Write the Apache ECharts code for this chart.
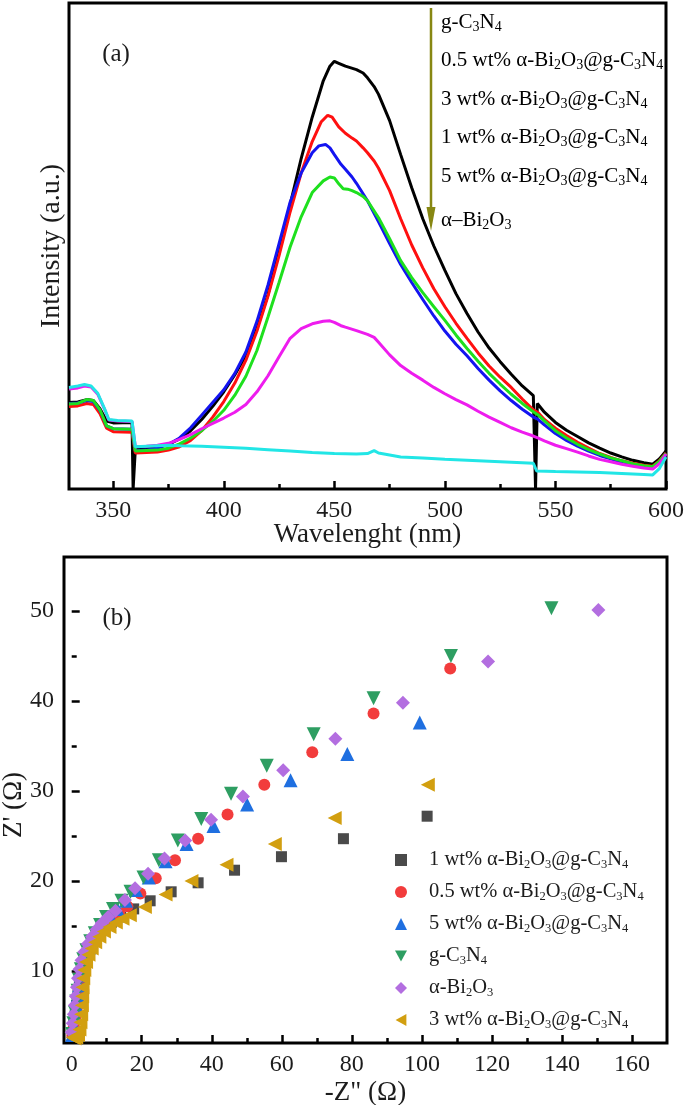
<!DOCTYPE html>
<html><head><meta charset="utf-8">
<script src="https://cdn.jsdelivr.net/npm/echarts@6/dist/echarts.min.js"></script>
<style>html,body{margin:0;padding:0;background:#fff}#c{width:685px;height:1105px}</style>
</head><body><div id="c"></div>
<script>
// ---------- Panel (a): PL spectra [wavelength nm, intensity a.u.] ----------
const plBlack = [[330,17.8],[334,17.9],[338,18.4],[341,18.2],[344,16.5],[347,14.0],[350,13.6],[358.5,13.7],[359,0],[359.5,0],[360,8.2],[365,8.3],[370,8.6],[375,9.2],[380,10.3],[385,12.0],[390,14.3],[395,17.0],[400,20.0],[405,23.5],[410,27.5],[415,33.0],[420,40.0],[425,49.0],[430,58.5],[435,68.0],[440,76.5],[445,84.0],[448,87.0],[450,88.0],[452,87.6],[455,87.0],[460,86.3],[463,85.6],[465,84.6],[468,82.8],[470,81.2],[475,75.8],[480,68.8],[485,62.0],[490,55.6],[495,50.0],[500,45.0],[505,40.2],[510,36.1],[515,32.3],[520,29.0],[525,26.2],[530,23.6],[535,21.2],[540,19.2],[540.8,18.9],[541,0],[541.5,0],[541.8,17.6],[545,15.8],[550,13.7],[555,12.1],[560,10.8],[565,9.5],[570,8.4],[575,7.4],[580,6.6],[585,5.9],[590,5.4],[594,5.1],[597,6.2],[600,7.8]];
const plRed = [[330,17.0],[334,17.1],[338,17.6],[341,17.4],[344,15.5],[347,12.5],[350,11.8],[358.5,11.7],[360,7.4],[365,7.5],[370,7.6],[375,8.0],[380,8.7],[385,10.0],[390,12.0],[395,14.8],[400,18.0],[405,21.8],[410,26.5],[415,32.5],[420,39.7],[425,48.0],[430,57.0],[435,65.0],[440,71.5],[444,75.5],[447,76.9],[449,76.5],[452,74.5],[455,73.2],[458,72.2],[460,71.6],[463,70.2],[465,69.2],[468,67.5],[470,66.0],[475,61.4],[480,55.6],[485,50.2],[490,45.5],[495,41.2],[500,37.5],[505,34.1],[510,31.0],[515,28.0],[520,25.3],[525,23.0],[530,20.9],[535,18.5],[540,16.3],[542,15.8],[545,14.3],[550,12.5],[555,11.0],[560,9.6],[565,8.4],[570,7.3],[575,6.5],[580,5.8],[585,5.3],[590,4.9],[594,4.7],[597,5.8],[600,7.4]];
const plBlue = [[330,17.6],[334,17.7],[338,18.2],[341,18.0],[344,16.2],[347,13.0],[350,12.4],[358.5,12.3],[360,7.9],[365,8.0],[370,8.4],[375,9.2],[380,10.5],[385,12.6],[390,15.2],[395,17.8],[400,20.4],[405,23.8],[410,28.2],[415,34.5],[420,42.0],[425,50.5],[430,59.0],[435,65.0],[440,69.2],[443,70.6],[446,70.9],[448,70.2],[450,68.8],[453,66.8],[455,65.8],[458,64.2],[460,62.9],[465,59.3],[470,55.0],[475,50.5],[480,46.2],[485,42.5],[490,39.0],[495,35.6],[500,32.5],[505,29.8],[510,27.4],[515,24.8],[520,22.4],[525,20.2],[530,18.2],[535,16.4],[540,14.8],[542,14.4],[545,13.2],[550,11.4],[555,10.0],[560,8.8],[565,7.8],[570,6.9],[575,6.2],[580,5.5],[585,5.0],[590,4.6],[594,4.4],[597,5.5],[600,7.0]];
const plGreen = [[330,17.5],[334,17.6],[338,18.4],[341,18.2],[344,16.3],[347,13.0],[350,12.4],[358.5,12.3],[360,7.8],[365,7.9],[370,8.0],[375,8.4],[380,9.3],[385,10.5],[390,12.0],[395,13.9],[400,16.2],[405,19.3],[410,23.2],[415,28.5],[420,35.4],[425,42.5],[430,49.8],[435,56.0],[440,61.0],[445,63.4],[448,64.2],[450,64.0],[452,62.8],[454,61.8],[456,61.7],[458,61.4],[460,61.0],[463,60.2],[465,59.3],[470,55.8],[475,51.5],[480,47.0],[485,43.5],[490,40.4],[495,37.5],[500,34.7],[505,31.7],[510,28.9],[515,26.3],[520,23.8],[525,21.6],[530,19.5],[535,17.6],[540,15.9],[542,15.3],[545,14.0],[550,12.0],[555,10.5],[560,9.2],[565,8.1],[570,7.2],[575,6.4],[580,5.8],[585,5.2],[590,4.8],[594,4.6],[597,5.7],[600,7.3]];
const plMagenta = [[330,20.6],[334,20.8],[337,21.2],[340,21.0],[343,19.5],[346,16.5],[348,14.2],[352,14.0],[358.5,13.9],[360,8.7],[365,8.8],[370,9.0],[375,9.4],[380,10.2],[385,11.2],[390,12.4],[395,13.5],[400,14.6],[405,15.8],[410,17.4],[415,20.0],[420,23.3],[425,27.2],[430,31.0],[435,33.0],[440,34.0],[445,34.5],[448,34.6],[450,34.3],[453,33.6],[455,33.3],[460,32.6],[465,31.8],[468,31.2],[470,30.2],[475,27.6],[480,25.4],[485,23.8],[490,22.4],[495,20.9],[500,19.6],[505,18.4],[510,17.3],[515,16.0],[520,14.8],[525,13.7],[530,12.6],[535,11.7],[540,10.9],[542,10.5],[545,9.9],[550,9.0],[555,8.3],[560,7.6],[565,6.8],[570,6.1],[575,5.6],[580,5.1],[585,4.7],[590,4.3],[594,4.1],[597,5.2],[600,7.2]];
const plCyan = [[330,20.9],[334,21.2],[337,21.5],[340,21.2],[343,19.7],[346,16.6],[348,14.3],[352,14.1],[358.5,14.0],[360,8.7],[365,8.8],[370,8.9],[375,9.0],[380,8.9],[390,8.8],[400,8.6],[410,8.4],[420,8.1],[430,7.8],[440,7.5],[450,7.3],[460,7.2],[465,7.3],[468,7.9],[470,7.4],[475,7.0],[480,6.6],[490,6.4],[500,6.1],[510,5.9],[520,5.7],[530,5.5],[540,5.3],[541.5,3.7],[550,3.6],[560,3.5],[570,3.4],[580,3.2],[590,3.0],[594,2.9],[597,4.2],[600,6.6]];
// label list beside the arrow, top to bottom (as printed in the figure)
const plNames = ['g-C3N4','0.5 wt% α-Bi2O3@g-C3N4','3 wt% α-Bi2O3@g-C3N4','1 wt% α-Bi2O3@g-C3N4','5 wt% α-Bi2O3@g-C3N4','α–Bi2O3'];
const plColors = ['#000000','#ff1010','#1414f0','#1ee01e','#ee1cee','#22e6e6'];
const wlMajorTicks = [350,400,450,500,550,600];
const wlMinorTicks = [375,425,475,525,575];

// ---------- Panel (b): Nyquist [-Z'' , Z'] ----------
const eis1wt = [[0.2,2.9],[0.6,4.0],[1.0,5.1],[1.4,6.2],[1.8,7.3],[2.2,8.4],[2.7,9.5],[3.3,10.6],[4.1,11.6],[5.1,12.5],[6.3,13.3],[7.7,14.1],[9.3,14.8],[11.3,15.4],[14.0,16.0],[17.7,16.9],[22.4,17.8],[28.4,18.8],[36.1,19.8],[46.5,21.2],[59.9,22.7],[77.6,24.7],[101.5,27.2]];
const eis05wt = [[0.2,2.8],[0.6,3.8],[1.0,4.8],[1.4,5.8],[1.8,6.8],[2.2,7.8],[2.6,8.8],[3.1,9.8],[3.7,10.8],[4.5,11.7],[5.5,12.6],[6.7,13.4],[8.1,14.2],[9.7,14.9],[11.5,15.6],[13.6,16.4],[15.9,17.2],[19.6,18.6],[24.0,20.3],[29.5,22.3],[36.1,24.7],[44.5,27.4],[55.0,30.7],[68.7,34.3],[86.2,38.6],[108.1,43.6]];
const eis5wt = [[0.1,2.9],[0.5,4.0],[0.9,5.1],[1.3,6.2],[1.7,7.3],[2.1,8.4],[2.6,9.5],[3.2,10.6],[4.0,11.6],[5.0,12.6],[6.2,13.5],[7.6,14.4],[9.2,15.3],[11.0,16.1],[13.1,16.9],[15.5,17.8],[18.4,19.0],[22.0,20.4],[26.8,22.2],[32.8,24.1],[40.5,26.1],[50.1,28.5],[62.5,31.2],[78.7,34.1],[99.4,37.6]];
const eisGCN = [[0.1,3.0],[0.5,4.2],[0.9,5.4],[1.3,6.6],[1.7,7.8],[2.1,9.0],[2.6,10.2],[3.3,11.3],[4.2,12.3],[5.3,13.3],[6.6,14.2],[8.1,15.1],[9.8,16.0],[11.8,16.9],[14.2,17.8],[16.8,18.8],[20.5,20.4],[24.9,22.3],[30.3,24.5],[37.0,26.9],[45.5,29.7],[55.7,32.8],[69.1,36.3],[86.2,40.3],[108.3,45.0],[137.0,50.3]];
const eisBi2O3 = [[0.0,3.2],[0.3,4.2],[0.6,5.2],[0.9,6.2],[1.2,7.2],[1.5,8.2],[1.8,9.2],[2.2,10.2],[2.8,11.2],[3.6,12.1],[4.6,13.0],[5.8,13.8],[7.1,14.6],[8.6,15.3],[10.4,16.0],[12.5,16.7],[15.2,17.9],[18.1,19.2],[21.8,20.8],[26.5,22.5],[32.4,24.5],[39.8,26.8],[48.9,29.4],[60.4,32.3],[75.3,35.8],[94.6,39.8],[118.9,44.4],[150.4,50.1]];
const eis3wt = [[0.3,2.6],[0.8,2.5],[1.3,2.6],[1.8,2.9],[2.2,3.5],[2.5,4.3],[2.7,5.2],[2.9,6.2],[3.0,7.2],[3.1,8.2],[3.3,9.2],[3.6,10.1],[4.1,11.0],[4.8,11.8],[5.7,12.5],[6.7,13.2],[7.9,13.8],[9.2,14.4],[10.8,14.9],[12.6,15.4],[14.5,15.8],[16.6,16.2],[20.9,17.1],[26.8,18.5],[34.2,20.0],[44.2,21.8],[58.0,24.1],[75.1,27.0],[101.7,30.7]];
const eisNames = ['1 wt% α-Bi2O3@g-C3N4','0.5 wt% α-Bi2O3@g-C3N4','5 wt% α-Bi2O3@g-C3N4','g-C3N4','α-Bi2O3','3 wt% α-Bi2O3@g-C3N4'];
const eisColors = ['#4a4a4a','#f23c3c','#1f6fe0','#2e9e62','#b36ee0','#d29f10'];
const zrMajorTicks = [0,20,40,60,80,100,120,140,160];
const zrMinorTicks = [10,30,50,70,90,110,130,150];
const ziMajorTicks = [10,20,30,40,50];
const ziMinorTicks = [5,15,25,35,45];

const F = "'Liberation Serif','Times New Roman',serif";
const TXT = '#1c1c1c';

// rich-text helper: digits 2/3/4 that follow a letter are subscripts
function richLabel(s, n, sub) {
  let out = '', buf = '';
  for (let i = 0; i < s.length; i++) {
    const ch = s[i];
    if (/[234]/.test(ch) && i > 0 && /[A-Za-z]/.test(s[i-1])) {
      if (buf) { out += '{' + n + '|' + buf + '}'; buf = ''; }
      out += '{' + sub + '|' + ch + '}';
    } else buf += ch;
  }
  if (buf) out += '{' + n + '|' + buf + '}';
  return out;
}
const RICH = {
  n: {fontSize: 21, fontFamily: F, color: TXT, lineHeight: 23, verticalAlign: 'top'},
  s: {fontSize: 14, fontFamily: F, color: TXT, lineHeight: 10, verticalAlign: 'bottom'},
  m: {fontSize: 20.5, fontFamily: F, color: TXT, lineHeight: 22, verticalAlign: 'top'},
  t: {fontSize: 12.5, fontFamily: F, color: TXT, lineHeight: 9, verticalAlign: 'bottom'},
  gap: {width: 17, lineHeight: 22, fontSize: 20, fontFamily: F}
};

const plData = [plBlack, plRed, plBlue, plGreen, plMagenta, plCyan];
const plLabelY = [23, 61, 100, 138, 177, 221];

const eisData = [eis1wt, eis05wt, eis5wt, eisGCN, eisBi2O3, eis3wt];
const eisSymbols = ['rect','circle','triangle','triangle','diamond','triangle'];
const eisRotate = [0,0,0,180,0,90];
const eisSizes = [11,12,14,14,14,14];
const eisLegendIcons = ['rect','circle','triangle','path://M0,0 L10,0 L5,9 Z','diamond','path://M9,0 L9,10 L0,5 Z'];

const chart = echarts.init(document.getElementById('c'), null, {renderer: 'canvas'});

const tickLine = {color: '#000', width: 2.5};
const labelStyle = {fontFamily: F, fontSize: 24, color: TXT, margin: 10};

const series = [];
plData.forEach((d, i) => {
  series.push({
    type: 'line', name: 'PL ' + plNames[i], xAxisIndex: 0, yAxisIndex: 0,
    data: d, showSymbol: false, symbol: 'none', smooth: false,
    lineStyle: {color: plColors[i], width: 3}, itemStyle: {color: plColors[i]},
    silent: true, z: 2
  });
});
eisData.forEach((d, i) => {
  series.push({
    type: 'scatter', name: eisNames[i], xAxisIndex: 2, yAxisIndex: 1,
    data: d, symbol: eisSymbols[i], symbolRotate: eisRotate[i], symbolSize: eisSizes[i],
    itemStyle: {color: eisColors[i], opacity: 1}, silent: true, z: 2
  });
});

const graphic = [
  {type: 'text', x: 116, y: 54, style: {text: '(a)', font: '25px ' + F, fill: TXT, align: 'center', verticalAlign: 'middle'}},
  {type: 'text', x: 117, y: 618, style: {text: '(b)', font: '25px ' + F, fill: TXT, align: 'center', verticalAlign: 'middle'}},
  {type: 'line', shape: {x1: 431, y1: 8, x2: 431, y2: 212}, style: {stroke: '#878712', lineWidth: 2.5}},
  {type: 'polygon', shape: {points: [[426.5, 207], [435.5, 207], [431, 231]]}, style: {fill: '#878712'}}
];
plNames.forEach((nm, i) => {
  graphic.push({type: 'text', x: 441, y: plLabelY[i], style: {text: richLabel(nm, 'n', 's'), rich: RICH, align: 'left', verticalAlign: 'middle'}});
});

const option = {
  animation: false,
  backgroundColor: '#ffffff',
  grid: [
    {left: 69, right: 19, top: 3, height: 486, show: true, borderColor: '#000', borderWidth: 3, backgroundColor: 'transparent', containLabel: false, outerBoundsMode: 'none'},
    {left: 64, right: 18, top: 557, height: 486, show: true, borderColor: '#000', borderWidth: 3, backgroundColor: 'transparent', containLabel: false, outerBoundsMode: 'none'}
  ],
  xAxis: [
    {gridIndex: 0, type: 'value', min: 330, max: 600,
     name: 'Wavelenght (nm)', nameLocation: 'middle', nameGap: 32, nameMoveOverlap: false,
     nameTextStyle: {fontFamily: F, fontSize: 27, color: TXT},
     axisLine: {show: false}, splitLine: {show: false},
     axisTick: {show: true, inside: true, length: 8, lineStyle: tickLine, customValues: wlMajorTicks},
     axisLabel: Object.assign({customValues: wlMajorTicks}, labelStyle)},
    {gridIndex: 0, type: 'value', min: 330, max: 600, position: 'bottom',
     axisLine: {show: false}, splitLine: {show: false}, axisLabel: {show: false},
     axisTick: {show: true, inside: true, length: 5, lineStyle: tickLine, customValues: wlMinorTicks}},
    {gridIndex: 1, type: 'value', min: -2.2, max: 170,
     name: '-Z" (Ω)', nameLocation: 'middle', nameGap: 36, nameMoveOverlap: false,
     nameTextStyle: {fontFamily: F, fontSize: 27, color: TXT},
     axisLine: {show: false}, splitLine: {show: false},
     axisTick: {show: true, inside: true, length: 8, lineStyle: tickLine, customValues: zrMajorTicks},
     axisLabel: Object.assign({customValues: zrMajorTicks}, labelStyle)},
    {gridIndex: 1, type: 'value', min: -2.2, max: 170, position: 'bottom',
     axisLine: {show: false}, splitLine: {show: false}, axisLabel: {show: false},
     axisTick: {show: true, inside: true, length: 5, lineStyle: tickLine, customValues: zrMinorTicks}}
  ],
  yAxis: [
    {gridIndex: 0, type: 'value', min: 0, max: 100,
     name: 'Intensity (a.u.)', nameLocation: 'middle', nameGap: 3, nameMoveOverlap: false,
     nameTextStyle: {fontFamily: F, fontSize: 28, color: TXT},
     axisLine: {show: false}, axisTick: {show: false}, axisLabel: {show: false}, splitLine: {show: false}},
    {gridIndex: 1, type: 'value', min: 2, max: 56,
     name: "Z' (Ω)", nameLocation: 'middle', nameGap: 37, nameMoveOverlap: false,
     nameTextStyle: {fontFamily: F, fontSize: 27, color: TXT, padding: [0, 10, 0, 0]},
     axisLine: {show: false}, splitLine: {show: false},
     axisTick: {show: true, inside: true, length: 8, lineStyle: tickLine, customValues: ziMajorTicks},
     axisLabel: Object.assign({customValues: ziMajorTicks}, labelStyle)},
    {gridIndex: 1, type: 'value', min: 2, max: 56, position: 'left',
     axisLine: {show: false}, splitLine: {show: false}, axisLabel: {show: false},
     axisTick: {show: true, inside: true, length: 5, lineStyle: tickLine, customValues: ziMinorTicks}}
  ],
  legend: {
    orient: 'vertical', left: 390, top: 844, itemWidth: 12, itemHeight: 12, itemGap: 10,
    symbolKeepAspect: true,
    data: eisNames.map((nm, i) => ({name: nm, icon: eisLegendIcons[i]})),
    selectedMode: false,
    formatter: nm => '{gap| }' + richLabel(nm, 'm', 't'),
    textStyle: {fontFamily: F, fontSize: 20, color: TXT, rich: RICH}
  },
  graphic: graphic,
  series: series
};
chart.setOption(option);
</script></body></html>
